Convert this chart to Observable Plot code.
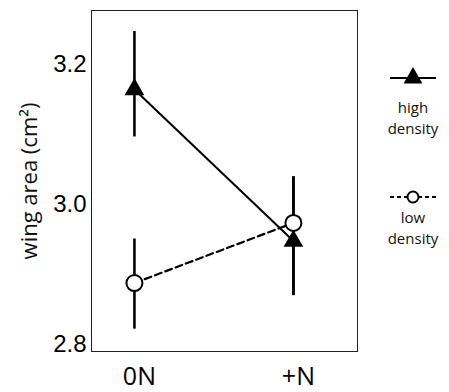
<!DOCTYPE html>
<html>
<head>
<meta charset="utf-8">
<script src="https://cdn.jsdelivr.net/npm/d3@7"></script>
<script src="https://cdn.jsdelivr.net/npm/@observablehq/plot@0.6"></script>
<style>
  html, body { margin: 0; padding: 0; background: #fff; }
</style>
</head>
<body>
<div id="chart"></div>
<script>
// ---- data ----
const treatments = ["0N", "+N"];
const treatmentIndex = [0, 1];
const highMean = [3.164, 2.947];
const highLow  = [3.096, 2.869];
const highHigh = [3.247, 3.039];
const lowMean  = [2.887, 2.973];
const lowLow   = [2.821, 2.869];
const lowHigh  = [2.950, 3.039];
const yTicks = [2.8, 3.0, 3.2];
const yLabel = "wing area (cm²)";
const legendItems = [
  {key: "high", lines: ["high", "density"]},
  {key: "low", lines: ["low", "density"]}
];

const high = treatmentIndex.map(i => ({x: i, mean: highMean[i], lo: highLow[i], hi: highHigh[i]}));
const low  = treatmentIndex.map(i => ({x: i, mean: lowMean[i],  lo: lowLow[i],  hi: lowHigh[i]}));

const labelFont = "'Open Sans', 'Noto Sans', sans-serif";

const plot = Plot.plot({
  width: 449,
  height: 392,
  marginLeft: 91,
  marginRight: 92,
  marginTop: 10,
  marginBottom: 41,
  style: {fontFamily: "'Liberation Sans', Arial, sans-serif", background: "#fff", color: "#000"},
  x: {type: "linear", domain: [-0.270, 1.403]},
  y: {domain: [2.789, 3.277]},
  marks: [
    Plot.frame({stroke: "#222", strokeWidth: 1}),
    Plot.axisY({ticks: yTicks, tickSize: 0, tickPadding: 5, fontSize: 24, tickFormat: d3.format(".1f"), label: null}),
    Plot.axisX({ticks: treatmentIndex, tickSize: 0, tickPadding: 16, fontSize: 25, fontFamily: labelFont, dx: 5, tickFormat: i => treatments[i], label: null}),
    Plot.ruleX(high, {x: "x", y1: "lo", y2: "hi", stroke: "#000", strokeWidth: 2.6}),
    Plot.ruleX(low,  {x: "x", y1: "lo", y2: "hi", stroke: "#000", strokeWidth: 2.6}),
    Plot.line(high, {x: "x", y: "mean", stroke: "#000", strokeWidth: 2}),
    Plot.line(low,  {x: "x", y: "mean", stroke: "#000", strokeWidth: 2.2, strokeDasharray: "7,4"}),
    Plot.dot(high, {x: "x", y: "mean", symbol: "triangle", r: 7.3, fill: "#000", stroke: "none"}),
    Plot.dot(low,  {x: "x", y: "mean", symbol: "circle", r: 8, fill: "#fff", stroke: "#000", strokeWidth: 2})
  ]
});

// ---- legend (drawn into the same SVG, right of the frame) ----
const svg = d3.select(plot);
const lg = svg.append("g").attr("class", "legend");
const cx = 413;
const symY = [78, 197];
const textY = [[113, 134], [223, 244]];
legendItems.forEach((item, k) => {
  const g = lg.append("g");
  g.append("line")
    .attr("x1", cx - 23).attr("x2", cx + 23)
    .attr("y1", symY[k]).attr("y2", symY[k])
    .attr("stroke", "#000").attr("stroke-width", 2)
    .attr("stroke-dasharray", item.key === "low" ? "4,3" : null);
  if (item.key === "high") {
    g.append("path")
      .attr("transform", `translate(${cx},${symY[k]})`)
      .attr("d", d3.symbol(d3.symbolTriangle, Math.PI * 7 * 7)())
      .attr("fill", "#000");
  } else {
    g.append("circle")
      .attr("cx", cx).attr("cy", symY[k]).attr("r", 5.5)
      .attr("fill", "#fff").attr("stroke", "#000").attr("stroke-width", 2);
  }
  item.lines.forEach((t, j) => {
    g.append("text")
      .attr("x", cx).attr("y", textY[k][j])
      .attr("text-anchor", "middle")
      .attr("font-family", labelFont)
      .attr("font-size", 15)
      .attr("fill", "#111")
      .text(t);
  });
});

// y-axis title
svg.append("text")
  .attr("transform", "translate(37,181) rotate(-90)")
  .attr("text-anchor", "middle")
  .attr("font-family", labelFont)
  .attr("font-size", 22)
  .attr("fill", "#111")
  .text(yLabel);

document.getElementById("chart").appendChild(plot);
</script>
</body>
</html>
